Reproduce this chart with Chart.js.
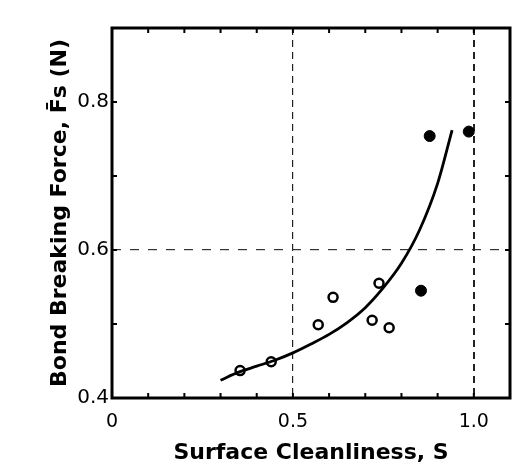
<!DOCTYPE html>
<html>
<head>
<meta charset="utf-8">
<script src="https://cdn.jsdelivr.net/npm/chart.js@4"></script>
<style>
  html, body { margin: 0; padding: 0; background: #fff; }
  #wrap { width: 525px; height: 471px; position: relative; }
</style>
</head>
<body>
<div id="wrap"><canvas id="myChart"></canvas></div>
<script>
// open circles (measured)
const openX = [0.354, 0.44, 0.57, 0.611, 0.719, 0.738, 0.766];
const openY = [0.437, 0.449, 0.499, 0.536, 0.505, 0.555, 0.495];
// filled circles
const filledX = [0.854, 0.878, 0.986];
const filledY = [0.545, 0.754, 0.76];
// fitted curve
const curveX = [0.30, 0.35, 0.40, 0.45, 0.50, 0.55, 0.60, 0.65, 0.70, 0.75, 0.80, 0.85, 0.90, 0.94];
const curveY = [0.424, 0.435, 0.443, 0.451, 0.461, 0.473, 0.486, 0.502, 0.522, 0.549, 0.582, 0.627, 0.690, 0.762];
// tick labels
const xLabels = ['0', '0.5', '1.0'];
const yLabels = ['0.4', '0.6', '0.8'];
const xGrid = [0.5, 1.0];
const yGrid = [0.6];

const toPts = (xs, ys) => xs.map((x, i) => ({ x: x, y: ys[i] }));
const near = (a, b) => Math.abs(a - b) < 1e-6;

const fontFamily = '"DejaVu Sans", "Liberation Sans", sans-serif';

// frame + inward minor ticks
const framePlugin = {
  id: 'frame',
  afterDraw(chart) {
    const ctx = chart.ctx;
    const a = chart.chartArea;
    const xs = chart.scales.x;
    const ys = chart.scales.y;
    ctx.save();
    ctx.strokeStyle = '#000';
    ctx.lineWidth = 2;
    for (let v = 0.1; v < 1.1; v += 0.1) {
      const px = xs.getPixelForValue(v);
      ctx.beginPath();
      ctx.moveTo(px, a.bottom); ctx.lineTo(px, a.bottom - 5);
      ctx.moveTo(px, a.top); ctx.lineTo(px, a.top + 5);
      ctx.stroke();
    }
    for (let v = 0.5; v < 0.9; v += 0.1) {
      const py = ys.getPixelForValue(v);
      ctx.beginPath();
      ctx.moveTo(a.left, py); ctx.lineTo(a.left + 5, py);
      ctx.moveTo(a.right, py); ctx.lineTo(a.right - 5, py);
      ctx.stroke();
    }
    ctx.lineWidth = 3;
    ctx.strokeRect(a.left, a.top, a.right - a.left, a.bottom - a.top);
    ctx.restore();
  }
};

const ctx = document.getElementById('myChart');

const config = {
  type: 'scatter',
  data: {
    datasets: [
      {
        label: 'curve',
        data: toPts(curveX, curveY),
        showLine: true,
        borderColor: '#000',
        borderWidth: 2.8,
        pointRadius: 0,
        cubicInterpolationMode: 'monotone'
      },
      {
        label: 'open',
        data: toPts(openX, openY),
        pointStyle: 'circle',
        pointRadius: 4.5,
        pointBorderWidth: 2.5,
        pointBorderColor: '#000',
        pointBackgroundColor: '#fff'
      },
      {
        label: 'filled',
        data: toPts(filledX, filledY),
        pointStyle: 'circle',
        pointRadius: 5.5,
        pointBorderWidth: 1,
        pointBorderColor: '#000',
        pointBackgroundColor: '#000'
      }
    ]
  },
  options: {
    responsive: true,
    maintainAspectRatio: false,
    animation: false,
    layout: { padding: { left: 0, top: 28, right: 15, bottom: 0 } },
    plugins: {
      legend: { display: false },
      tooltip: { enabled: false }
    },
    scales: {
      x: {
        type: 'linear',
        min: 0,
        max: 1.1,
        afterFit: (scale) => { scale.height = 73; },
        border: { display: false, dash: [7, 5] },
        grid: {
          drawTicks: false,
          lineWidth: (c) => near(c.tick.value, 1.0) ? 2 : 1.2,
          color: (c) => xGrid.some(g => near(g, c.tick.value)) ? '#222' : 'rgba(0,0,0,0)'
        },
        ticks: {
          stepSize: 0.1,
          autoSkip: false,
          maxRotation: 0,
          padding: 13,
          color: '#000',
          font: { family: fontFamily, size: 19 },
          callback: (v) => {
            const i = [0, 0.5, 1.0].findIndex(t => near(t, v));
            return i >= 0 ? xLabels[i] : '';
          }
        },
        title: {
          display: true,
          text: 'Surface Cleanliness, S',
          color: '#000',
          font: { family: fontFamily, size: 22, weight: 'bold' },
          padding: { top: 0, bottom: 5 }
        }
      },
      y: {
        type: 'linear',
        min: 0.4,
        max: 0.9,
        afterFit: (scale) => { scale.width = 112; },
        border: { display: false, dash: [9, 9] },
        grid: {
          drawTicks: false,
          lineWidth: 1.2,
          color: (c) => yGrid.some(g => near(g, c.tick.value)) ? '#333' : 'rgba(0,0,0,0)'
        },
        ticks: {
          stepSize: 0.1,
          autoSkip: false,
          padding: 3,
          color: '#000',
          font: { family: fontFamily, size: 20 },
          callback: (v) => {
            const i = [0.4, 0.6, 0.8].findIndex(t => near(t, v));
            return i >= 0 ? yLabels[i] : '';
          }
        },
        title: {
          display: true,
          text: 'Bond Breaking Force, F̄s (N)',
          color: '#000',
          font: { family: fontFamily, size: 22, weight: 'bold' },
          padding: { top: 47, bottom: 0 }
        }
      }
    }
  },
  plugins: [framePlugin]
};

const myChart = new Chart(ctx, config);
</script>
</body>
</html>
